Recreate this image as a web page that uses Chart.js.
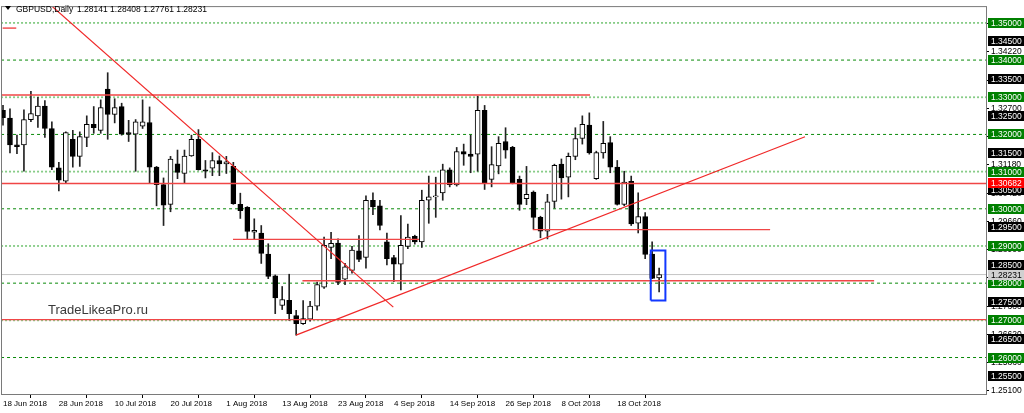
<!DOCTYPE html>
<html>
<head>
<meta charset="utf-8">
<script src="https://cdn.jsdelivr.net/npm/chart.js@4.4.1/dist/chart.umd.min.js"></script>
<style>
  html, body { margin: 0; padding: 0; background: #fff; }
  #wrap { position: relative; width: 1024px; height: 413px; }
</style>
</head>
<body>
<div id="wrap"><canvas id="chart"></canvas></div>
<script>
// GBPUSD daily, 18 Jun 2018 .. 26 Oct 2018
const openP = [
  1.3265, 1.3244, 1.3172, 1.3172, 1.3240, 1.3250, 1.3276, 1.3216, 1.3110, 1.3074,
  1.3187, 1.3141, 1.3192, 1.3227, 1.3211, 1.3322, 1.3254, 1.3275, 1.3205, 1.3201,
  1.3222, 1.3232, 1.3112, 1.3065, 1.3012, 1.3121, 1.3095, 1.3142, 1.3187, 1.3105,
  1.3109, 1.3130, 1.3121, 1.3114, 1.3012, 1.3004, 1.2937, 1.2935, 1.2878, 1.2820,
  1.2740, 1.2754, 1.2713, 1.2691, 1.2703, 1.2738, 1.2789, 1.2896, 1.2908, 1.2811,
  1.2834, 1.2887, 1.2869, 1.3023, 1.3008, 1.2911, 1.2869, 1.2851, 1.2899, 1.2926,
  1.2911, 1.3023, 1.3032, 1.3043, 1.3105, 1.3064, 1.3154, 1.3147, 1.3147, 1.3265,
  1.3079, 1.3115, 1.3181, 1.3165, 1.3079, 1.3027, 1.3045, 1.2977, 1.2940, 1.3020,
  1.3120, 1.3085, 1.3141, 1.3189, 1.3225, 1.3081, 1.3150, 1.3178, 1.3112, 1.3012,
  1.3074, 1.2961, 1.2979, 1.2878, 1.28141
];
const highP = [
  1.3278, 1.3269, 1.3198, 1.3266, 1.3316, 1.3300, 1.3291, 1.3234, 1.3125, 1.3207,
  1.3211, 1.3207, 1.3250, 1.3275, 1.3293, 1.3366, 1.3296, 1.3284, 1.3238, 1.3240,
  1.3293, 1.3274, 1.3114, 1.3083, 1.3141, 1.3158, 1.3158, 1.3198, 1.3213, 1.3130,
  1.3151, 1.3142, 1.3141, 1.3125, 1.3042, 1.3006, 1.2973, 1.2955, 1.2906, 1.2822,
  1.2791, 1.2824, 1.2727, 1.2753, 1.2751, 1.2803, 1.2924, 1.2937, 1.2919, 1.2853,
  1.2899, 1.2928, 1.3035, 1.3043, 1.3023, 1.2935, 1.2875, 1.2982, 1.2959, 1.2929,
  1.3050, 1.3088, 1.3085, 1.3120, 1.3110, 1.3165, 1.3174, 1.3198, 1.3303, 1.3278,
  1.3167, 1.3194, 1.3218, 1.3168, 1.3088, 1.3114, 1.3048, 1.2980, 1.3039, 1.3120,
  1.3134, 1.3150, 1.3218, 1.3250, 1.3258, 1.3155, 1.3235, 1.3194, 1.3130, 1.3101,
  1.3088, 1.3043, 1.2990, 1.2911, 1.28408
];
const lowP = [
  1.3225, 1.3150, 1.3148, 1.3101, 1.3234, 1.3219, 1.3192, 1.3105, 1.3048, 1.3070,
  1.3112, 1.3114, 1.3167, 1.3203, 1.3203, 1.3187, 1.3231, 1.3198, 1.3181, 1.3101,
  1.3216, 1.3070, 1.3008, 1.2955, 1.2992, 1.3081, 1.3068, 1.3141, 1.3104, 1.3083,
  1.3089, 1.3089, 1.3095, 1.3012, 1.2974, 1.2918, 1.2919, 1.2853, 1.2812, 1.2718,
  1.2729, 1.2700, 1.2660, 1.2689, 1.2698, 1.2727, 1.2786, 1.2866, 1.2796, 1.2796,
  1.2827, 1.2858, 1.2840, 1.2984, 1.2943, 1.2849, 1.2804, 1.2782, 1.2893, 1.2905,
  1.2896, 1.2961, 1.2977, 1.3023, 1.3059, 1.3061, 1.3117, 1.3097, 1.3101, 1.3052,
  1.3059, 1.3094, 1.3136, 1.3067, 1.2996, 1.3011, 1.2946, 1.2922, 1.2919, 1.3002,
  1.3026, 1.3032, 1.3132, 1.3174, 1.3147, 1.3079, 1.3136, 1.3097, 1.3010, 1.3008,
  1.2955, 1.2935, 1.2866, 1.2812, 1.27761
];
const closeP = [
  1.3245, 1.3172, 1.3167, 1.3240, 1.3256, 1.3276, 1.3216, 1.3112, 1.3077, 1.3205,
  1.3141, 1.3194, 1.3227, 1.3218, 1.3272, 1.3254, 1.3272, 1.3201, 1.3200, 1.3234,
  1.3234, 1.3112, 1.3065, 1.3010, 1.3134, 1.3098, 1.3142, 1.3187, 1.3105, 1.3101,
  1.3130, 1.3121, 1.3126, 1.3014, 1.2995, 1.2939, 1.2942, 1.2880, 1.2818, 1.2760,
  1.2756, 1.2718, 1.2691, 1.2705, 1.2738, 1.2796, 1.2902, 1.2907, 1.2802, 1.2844,
  1.2889, 1.2864, 1.3023, 1.3005, 1.2955, 1.2866, 1.2851, 1.2902, 1.2924, 1.2911,
  1.3023, 1.3032, 1.3034, 1.3105, 1.3065, 1.3154, 1.3147, 1.3141, 1.3265, 1.3070,
  1.3119, 1.3176, 1.3158, 1.3070, 1.3012, 1.3039, 1.2977, 1.2940, 1.3019, 1.3117,
  1.3083, 1.3141, 1.3189, 1.3227, 1.3150, 1.3151, 1.3176, 1.3112, 1.3012, 1.3072,
  1.2959, 1.2979, 1.2877, 1.2813, 1.28231
];

// time axis labels (bar index -> date)
const dateTickBars = [0, 8, 16, 24, 32, 40, 48, 56, 64, 72, 80, 88];
const dateTickLabels = ['18 Jun 2018', '28 Jun 2018', '10 Jul 2018', '20 Jul 2018', '1 Aug 2018', '13 Aug 2018',
  '23 Aug 2018', '4 Sep 2018', '14 Sep 2018', '26 Sep 2018', '8 Oct 2018', '18 Oct 2018'];

// price scale
const priceTicks = [1.251, 1.2586, 1.2662, 1.2738, 1.2814, 1.289, 1.2966, 1.3042, 1.3118, 1.3194, 1.327, 1.3346, 1.3422, 1.3498];
const roundLevels = [1.35, 1.34, 1.33, 1.32, 1.31, 1.30, 1.29, 1.28, 1.27, 1.26];
const halfLevels = [1.345, 1.335, 1.325, 1.315, 1.305, 1.295, 1.285, 1.275, 1.265, 1.255];
const keyLevel = 1.30682;
const bidPrice = 1.28231;
const header = ['GBPUSD,Daily', '1.28141 1.28408 1.27761 1.28231'];

// drawn objects: [bar, price] anchors
const downTrend = [[6.83, 1.35478], [55.92, 1.27355]];
const upTrend = [[41.98, 1.26603], [114.9, 1.31939]];
const redLevelPrice = [1.30682, 1.2702, 1.3306, 1.29178, 1.2944, 1.28063, 1.3486];
const redLevelFrom = [-2, -2, -2, 32.95, 75.9, 42.9, -0.05];
const redLevelTo = [145, 145, 84.1, 59.6, 109.9, 124.8, 1.9];
const boxBars = [92.8, 94.9];
const boxPrices = [1.27533, 1.28876];

const FONT = 'Liberation Sans';
Chart.defaults.font.family = FONT;

const bars = openP.map((_, i) => i);
const bodies = bars.map(i => ({ x: i, y: [openP[i], closeP[i]] }));
const wicks = bars.map(i => ({ x: i, y: [lowP[i], highP[i]] }));
const bodyFill = bars.map(i => closeP[i] >= openP[i] ? '#ffffff' : '#000000');

const datasets = [];
roundLevels.forEach((lv, k) => {
  const dark = k % 2 === 1;
  datasets.push({
    type: 'line', data: [{ x: -2, y: lv }, { x: 145, y: lv }],
    borderColor: dark ? '#0a8a0a' : '#86cc86',
    borderWidth: dark ? 1 : 1.8,
    borderDash: dark ? [3, 3] : [2, 2],
    pointRadius: 0, order: 6
  });
});
datasets.push({
  type: 'line', data: [{ x: -2, y: bidPrice }, { x: 145, y: bidPrice }],
  borderColor: '#c4c4c4', borderWidth: 1, pointRadius: 0, order: 5
});
datasets.push({
  type: 'bar', data: wicks, backgroundColor: '#222', borderWidth: 0,
  barThickness: 1, grouped: false, order: 4
});
datasets.push({
  type: 'bar', data: bodies, backgroundColor: bodyFill, borderColor: '#000',
  borderWidth: 1, borderSkipped: false, barThickness: 5, minBarLength: 1,
  grouped: false, order: 3
});
redLevelPrice.forEach((p, k) => {
  datasets.push({
    type: 'line', data: [{ x: redLevelFrom[k], y: p }, { x: redLevelTo[k], y: p }],
    borderColor: 'rgb(240,70,70)', borderWidth: 1.4, pointRadius: 0, order: 2
  });
});
[downTrend, upTrend].forEach(t => {
  datasets.push({
    type: 'line', data: t.map(([x, y]) => ({ x, y })),
    borderColor: 'rgb(240,40,40)', borderWidth: 1.2, pointRadius: 0, order: 1
  });
});
datasets.push({
  type: 'line',
  data: [
    { x: boxBars[0], y: boxPrices[0] }, { x: boxBars[1], y: boxPrices[0] },
    { x: boxBars[1], y: boxPrices[1] }, { x: boxBars[0], y: boxPrices[1] },
    { x: boxBars[0], y: boxPrices[0] }
  ],
  borderColor: '#1238ff', borderWidth: 2, pointRadius: 0, order: 0
});

// frame, price tags, header and watermark
const decor = {
  id: 'decor',
  afterDraw(chart) {
    const { ctx, chartArea: a, scales: { y } } = chart;
    ctx.save();
    ctx.strokeStyle = '#7a7a7a';
    ctx.lineWidth = 1;
    ctx.strokeRect(a.left - 0.5, a.top - 0.5, a.right - a.left + 1, a.bottom - a.top + 1);

    ctx.font = '8.5px ' + FONT;
    ctx.textBaseline = 'middle';
    ctx.textAlign = 'left';
    const tag = (price, bg, fg) => {
      const py = Math.round(y.getPixelForValue(price));
      ctx.fillStyle = bg;
      ctx.fillRect(a.right + 2, py - 5, 38, 10);
      ctx.fillStyle = fg;
      ctx.fillText(price.toFixed(5), a.right + 5, py + 0.5);
    };
    halfLevels.forEach(p => tag(p, '#000000', '#ffffff'));
    roundLevels.forEach(p => tag(p, '#008000', '#ffffff'));
    tag(keyLevel, '#ff0000', '#ffffff');
    tag(bidPrice, '#d0d0d0', '#000000');

    // header
    ctx.fillStyle = '#000';
    ctx.beginPath();
    ctx.moveTo(5, 6); ctx.lineTo(11, 6); ctx.lineTo(8, 10); ctx.closePath();
    ctx.fill();
    ctx.font = '8.5px ' + FONT;
    ctx.fillText(header[0], 16, 9.5);
    ctx.fillText(header[1], 77, 9.5);

    // watermark
    ctx.fillStyle = '#3a3a3a';
    ctx.font = '13px ' + FONT;
    ctx.fillText('TradeLikeaPro.ru', 48, 310);
    ctx.restore();
  }
};

new Chart(document.getElementById('chart'), {
  type: 'bar',
  data: { datasets },
  options: {
    responsive: true,
    maintainAspectRatio: false,
    animation: false,
    events: [],
    layout: { padding: { left: 2, top: 2, right: 0, bottom: 0 } },
    plugins: { legend: { display: false }, tooltip: { enabled: false } },
    scales: {
      x: {
        type: 'linear', min: -0.143, max: 140.83, offset: false,
        afterBuildTicks: s => { s.ticks = dateTickBars.map(v => ({ value: v })); },
        afterFit: s => { s.height = 19; },
        grid: { drawOnChartArea: false, drawTicks: true, tickLength: 4, color: '#000' },
        border: { display: false },
        ticks: {
          autoSkip: false, maxRotation: 0, align: 'start', padding: 1, color: '#000',
          font: { size: 8 },
          callback: (v, idx) => dateTickLabels[idx]
        }
      },
      y: {
        position: 'right', min: 1.250186, max: 1.354247,
        afterBuildTicks: s => { s.ticks = priceTicks.map(v => ({ value: v })); },
        afterFit: s => { s.width = 38; },
        grid: { drawOnChartArea: false, drawTicks: true, tickLength: 3, color: '#000' },
        border: { display: false },
        ticks: { padding: 2, color: '#000', font: { size: 8.5 }, callback: v => Number(v).toFixed(5) }
      }
    }
  },
  plugins: [decor]
});
</script>
</body>
</html>
